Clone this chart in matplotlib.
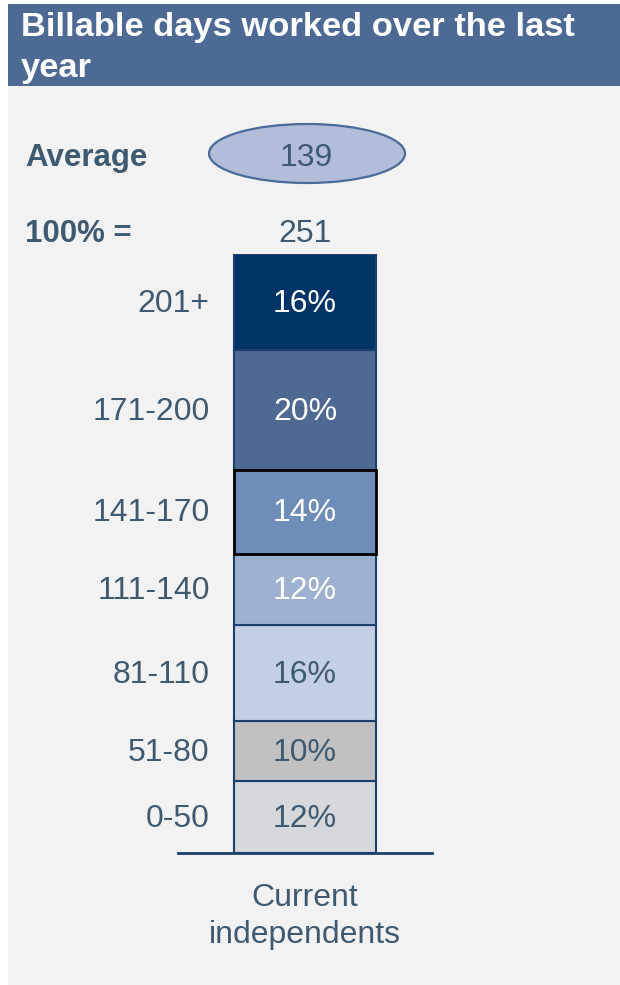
import matplotlib
matplotlib.use("Agg")
import matplotlib.pyplot as plt
from matplotlib.patches import Rectangle, Ellipse
import numpy as np

plt.rcParams['font.family'] = ['Liberation Sans', 'DejaVu Sans']

# data, bottom segment first
ranges = ['0-50', '51-80', '81-110', '111-140', '141-170', '171-200', '201+']
shares = [12, 10, 16, 12, 14, 20, 16]
seg_colors = ['#d6d8db', '#c1c1c1', '#c3cfe2', '#9eb1d0', '#6f8db9', '#4e6a93', '#003366']
label_colors = ['#3f5a70', '#3f5a70', '#3f5a70', 'white', 'white', 'white', 'white']
edge_colors = ['#1b3f6e', '#1b3f6e', '#1b3f6e', '#1b3f6e', 'black', '#1b3f6e', '#1b3f6e']
title_lines = ['Billable days worked over the last', 'year']
average = 139
total_n = 251
column_lines = ['Current', 'independents']

W, H = 620, 985
TXT = '#3f5a70'
FS = 23

def fx(px):
    return px / W

def fy(py):
    return 1 - py / H

fig = plt.figure(figsize=(W / 100, H / 100), dpi=100)
fig.patch.set_facecolor('white')

# light panel and title banner
fig.patches.append(Rectangle((fx(8), 0), 1 - fx(8), fy(4), transform=fig.transFigure,
                             facecolor='#f2f2f2', edgecolor='none', zorder=-2))
fig.patches.append(Rectangle((fx(8), fy(86)), 1 - fx(8), fy(4) - fy(86), transform=fig.transFigure,
                             facecolor='#4d6a94', edgecolor='none', zorder=-1))
fig.text(fx(21), fy(36), title_lines[0], color='white', fontsize=24.8, fontweight='bold', va='baseline')
fig.text(fx(21), fy(77), title_lines[1], color='white', fontsize=24.8, fontweight='bold', va='baseline')

# average bubble
fig.patches.append(Ellipse((fx(307), fy(153.5)), 196 / W, 59 / H, transform=fig.transFigure,
                           facecolor='#b3bcd8', edgecolor='#4a6a9a', linewidth=1.6, zorder=1))
fig.text(fx(25), fy(166), 'Average', color=TXT, fontsize=22.5, fontweight='bold', va='baseline')
fig.text(fx(306), fy(166), str(average), color=TXT, fontsize=FS, ha='center', va='baseline')
fig.text(fx(25), fy(242), '100% =', color=TXT, fontsize=22.5, fontweight='bold', va='baseline')
fig.text(fx(305), fy(242), str(total_n), color=TXT, fontsize=FS, ha='center', va='baseline')

# stacked column
ax_left, ax_right, ax_top, ax_bottom = 178, 432, 254, 853
ax = fig.add_axes([fx(ax_left), fy(ax_bottom), (ax_right - ax_left) / W, (ax_bottom - ax_top) / H])
ax.set_zorder(3)
ax.patch.set_visible(False)
ax.set_xlim(-1, 1)
ax.set_ylim(0, 100)
bar_w = 2 * 142 / (ax_right - ax_left)

bottoms = np.concatenate([[0], np.cumsum(shares)[:-1]])
for rng, val, b, fc, lc, ec in zip(ranges, shares, bottoms, seg_colors, label_colors, edge_colors):
    lw = 2.0 if ec == 'black' else 1.5
    ax.bar(0, val, bottom=b, width=bar_w, color=fc, edgecolor=ec, linewidth=lw,
           zorder=3 if ec == 'black' else 2)
    ax.text(0, b + val / 2 - 0.3, f'{val}%', color=lc, fontsize=FS, ha='center', va='center', zorder=4)
    ax.text(-0.75, b + val / 2 - 0.3, rng, color=TXT, fontsize=FS, ha='right', va='center', clip_on=False)

for s in ['top', 'right', 'left']:
    ax.spines[s].set_visible(False)
ax.spines['bottom'].set_color('#1b3f6e')
ax.spines['bottom'].set_linewidth(2)
ax.spines['bottom'].set_zorder(5)
ax.set_xticks([])
ax.set_yticks([])

fig.text(fx(305), fy(906), column_lines[0], color=TXT, fontsize=FS, ha='center', va='baseline')
fig.text(fx(305), fy(943), column_lines[1], color=TXT, fontsize=FS, ha='center', va='baseline')

fig.savefig('out.png', dpi=100, facecolor=fig.get_facecolor())
